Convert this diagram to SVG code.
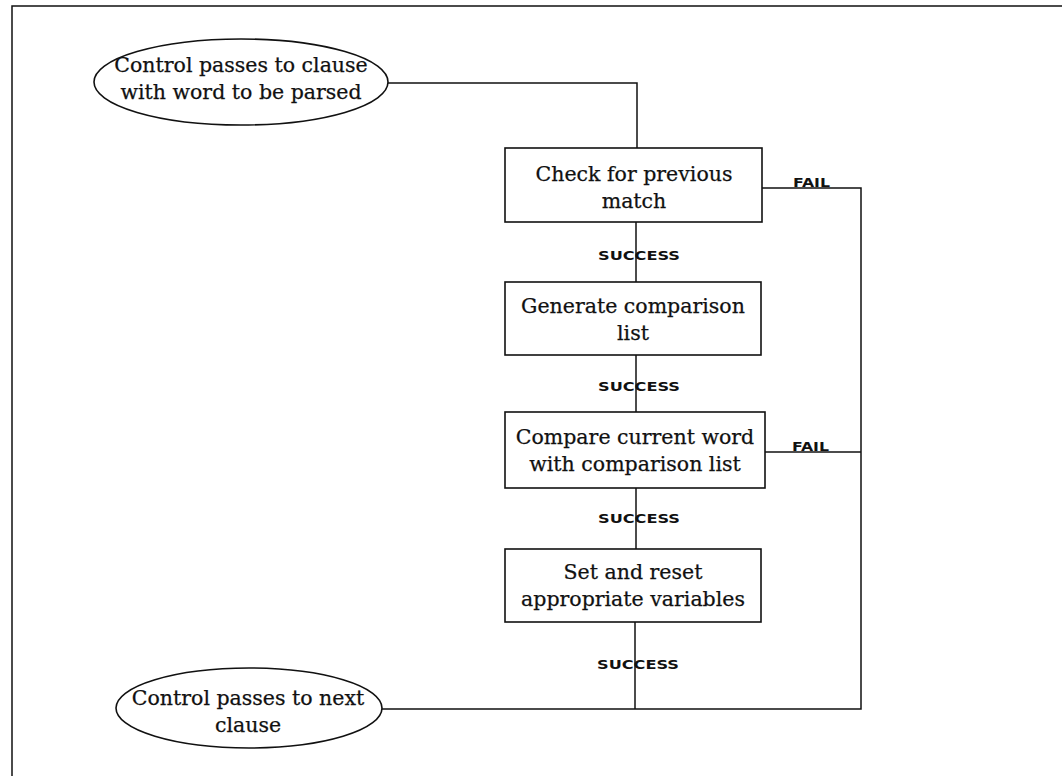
<svg xmlns="http://www.w3.org/2000/svg" width="1062" height="776" viewBox="0 0 1062 776">
  <style>
    .frame { fill: none; stroke: #111; stroke-width: 1.5; }
    .shape { fill: #fff; stroke: #111; stroke-width: 1.6; }
    .wire { fill: none; stroke: #111; stroke-width: 1.5; }
    .label { font-family: "DejaVu Serif", "Liberation Serif", serif; font-size: 20.5px; fill: #111; stroke: #111; stroke-width: 0.25; text-anchor: middle; }
    .tag { font-family: "DejaVu Sans", "Liberation Sans", sans-serif; font-weight: bold; font-size: 11.5px; fill: #111; }
  </style>
  <rect width="1062" height="776" fill="#fff"/>
  <!-- page border: top and left edges only -->
  <path class="frame" d="M12 776 V6 H1062"/>

  <g id="connectors">
    <path class="wire" d="M388 83 H637 V148"/>
    <path class="wire" d="M636 222 V282"/>
    <path class="wire" d="M636 355 V412"/>
    <path class="wire" d="M636 488 V549"/>
    <path class="wire" d="M635 622 V709"/>
    <path class="wire" d="M762 188 H861 V709 H382"/>
    <path class="wire" d="M765 452 H861"/>
    <text class="tag" x="598" y="260" textLength="82" lengthAdjust="spacingAndGlyphs">SUCCESS</text>
    <text class="tag" x="598" y="391" textLength="82" lengthAdjust="spacingAndGlyphs">SUCCESS</text>
    <text class="tag" x="598" y="523" textLength="82" lengthAdjust="spacingAndGlyphs">SUCCESS</text>
    <text class="tag" x="597" y="669" textLength="82" lengthAdjust="spacingAndGlyphs">SUCCESS</text>
    <text class="tag" x="793" y="187" textLength="37" lengthAdjust="spacingAndGlyphs">FAIL</text>
    <text class="tag" x="792" y="451" textLength="37" lengthAdjust="spacingAndGlyphs">FAIL</text>
  </g>

  <g id="start">
    <ellipse class="shape" cx="241" cy="82" rx="147" ry="43"/>
    <text class="label" x="241" y="72">Control passes to clause</text>
    <text class="label" x="241" y="99">with word to be parsed</text>
  </g>

  <g id="check-previous">
    <rect class="shape" x="505" y="148" width="257" height="74"/>
    <text class="label" x="634" y="181">Check for previous</text>
    <text class="label" x="634" y="208">match</text>
  </g>

  <g id="generate-list">
    <rect class="shape" x="505" y="282" width="256" height="73"/>
    <text class="label" x="633" y="313">Generate comparison</text>
    <text class="label" x="633" y="340">list</text>
  </g>

  <g id="compare-word">
    <rect class="shape" x="505" y="412" width="260" height="76"/>
    <text class="label" x="635" y="444">Compare current word</text>
    <text class="label" x="635" y="471">with comparison list</text>
  </g>

  <g id="set-variables">
    <rect class="shape" x="505" y="549" width="256" height="73"/>
    <text class="label" x="633" y="579">Set and reset</text>
    <text class="label" x="633" y="606">appropriate variables</text>
  </g>

  <g id="end">
    <ellipse class="shape" cx="249" cy="708" rx="133" ry="40"/>
    <text class="label" x="248" y="705">Control passes to next</text>
    <text class="label" x="248" y="732">clause</text>
  </g>
</svg>
